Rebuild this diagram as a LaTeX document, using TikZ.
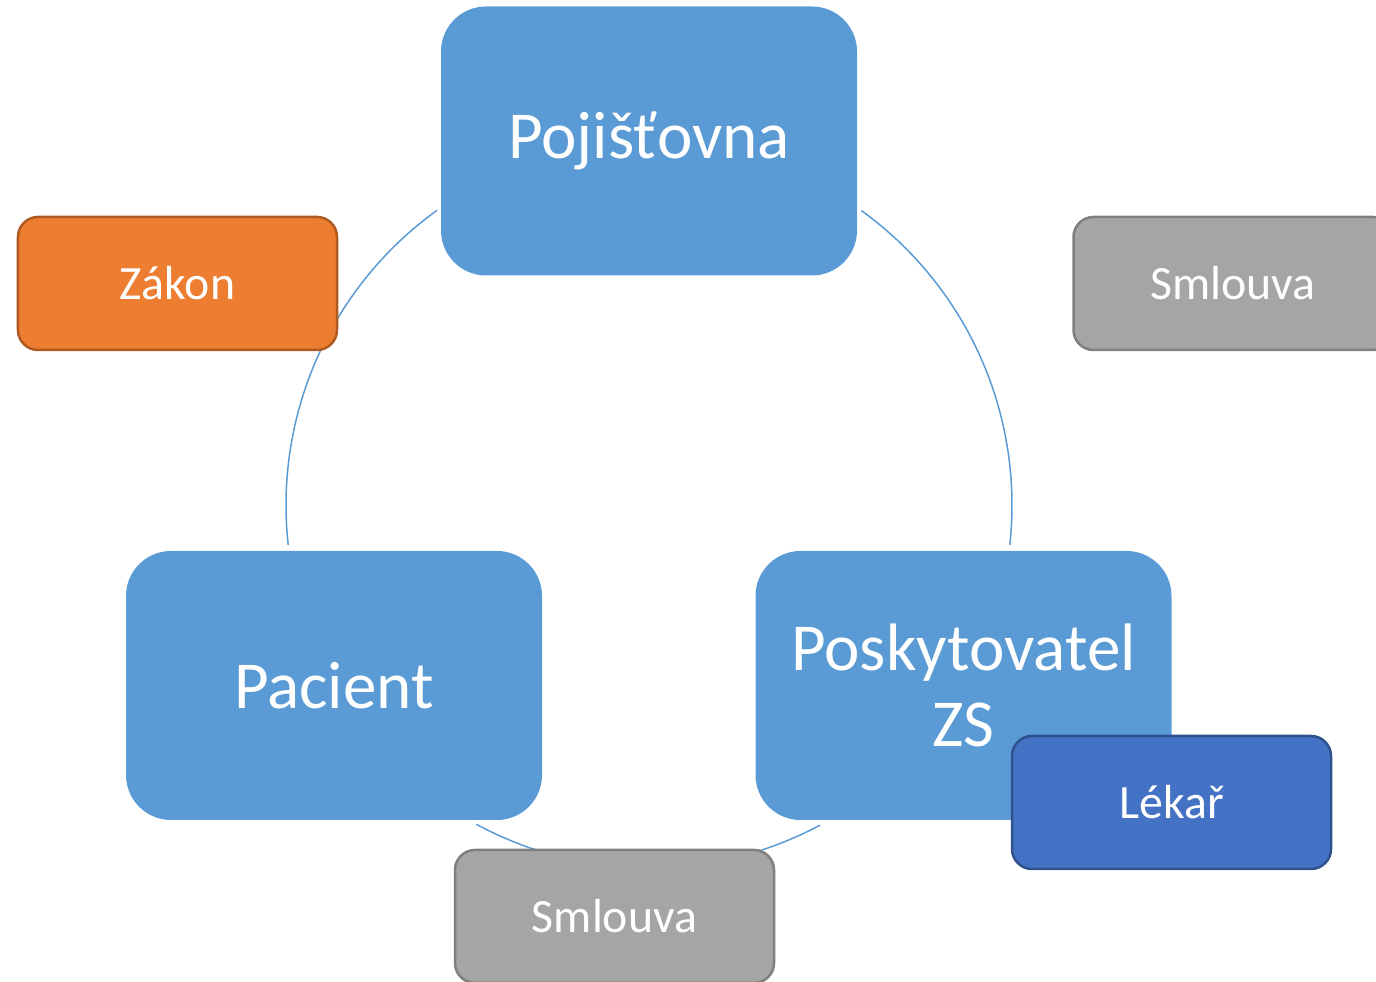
\documentclass[tikz,border=0pt]{standalone}
\usepackage{fontspec}
\setmainfont{Carlito}
\definecolor{boxblue}{HTML}{5B9BD5}
\definecolor{lawfill}{HTML}{ED7D31}
\definecolor{lawline}{HTML}{AE5A21}
\definecolor{dealfill}{HTML}{A5A5A5}
\definecolor{dealline}{HTML}{7F7F7F}
\definecolor{docfill}{HTML}{4472C4}
\definecolor{docline}{HTML}{2F528F}
\begin{document}
\begin{tikzpicture}[
        party/.style={fill=boxblue, rounded corners=0.45cm, minimum width=4.16cm, minimum height=2.69cm, text=white, font=\fontsize{19.1}{21.5}\selectfont, align=center},
        tag/.style={rounded corners=0.2cm, minimum width=3.19cm, minimum height=1.33cm, text=white, font=\fontsize{13.6}{16}\selectfont, line width=0.25mm}
    ]
        \useasboundingbox (0,0) rectangle (13.76,9.82);
        % circle behind the parties
        \coordinate (c) at (6.49,4.77);
        \foreach \a/\b in {54.2/-6.3, 125.7/186.3, 241.6/298.1} {
            \draw[boxblue, line width=0.15mm] ([shift={(\a:3.63)}]c) arc[start angle=\a, end angle=\b, radius=3.63];
        }
        % parties
        \node[party] (poj) at (6.49,8.41) {Pojišťovna};
        \node[party] (pac) at (3.34,2.965) {Pacient};
        \node[party] (posk) at (9.635,2.965) {Poskytovatel\\ZS};
        % relations
        \node[tag, fill=lawfill, draw=lawline] (zakon) at (1.775,6.985) {Zákon};
        \node[tag, fill=dealfill, draw=dealline] (smlR) at (12.33,6.985) {Smlouva};
        \node[tag, fill=dealfill, draw=dealline] (smlB) at (6.145,0.655) {Smlouva};
        \node[tag, fill=docfill, draw=docline] (lekar) at (11.715,1.795) {Lékař};
    \end{tikzpicture}
\end{document}
